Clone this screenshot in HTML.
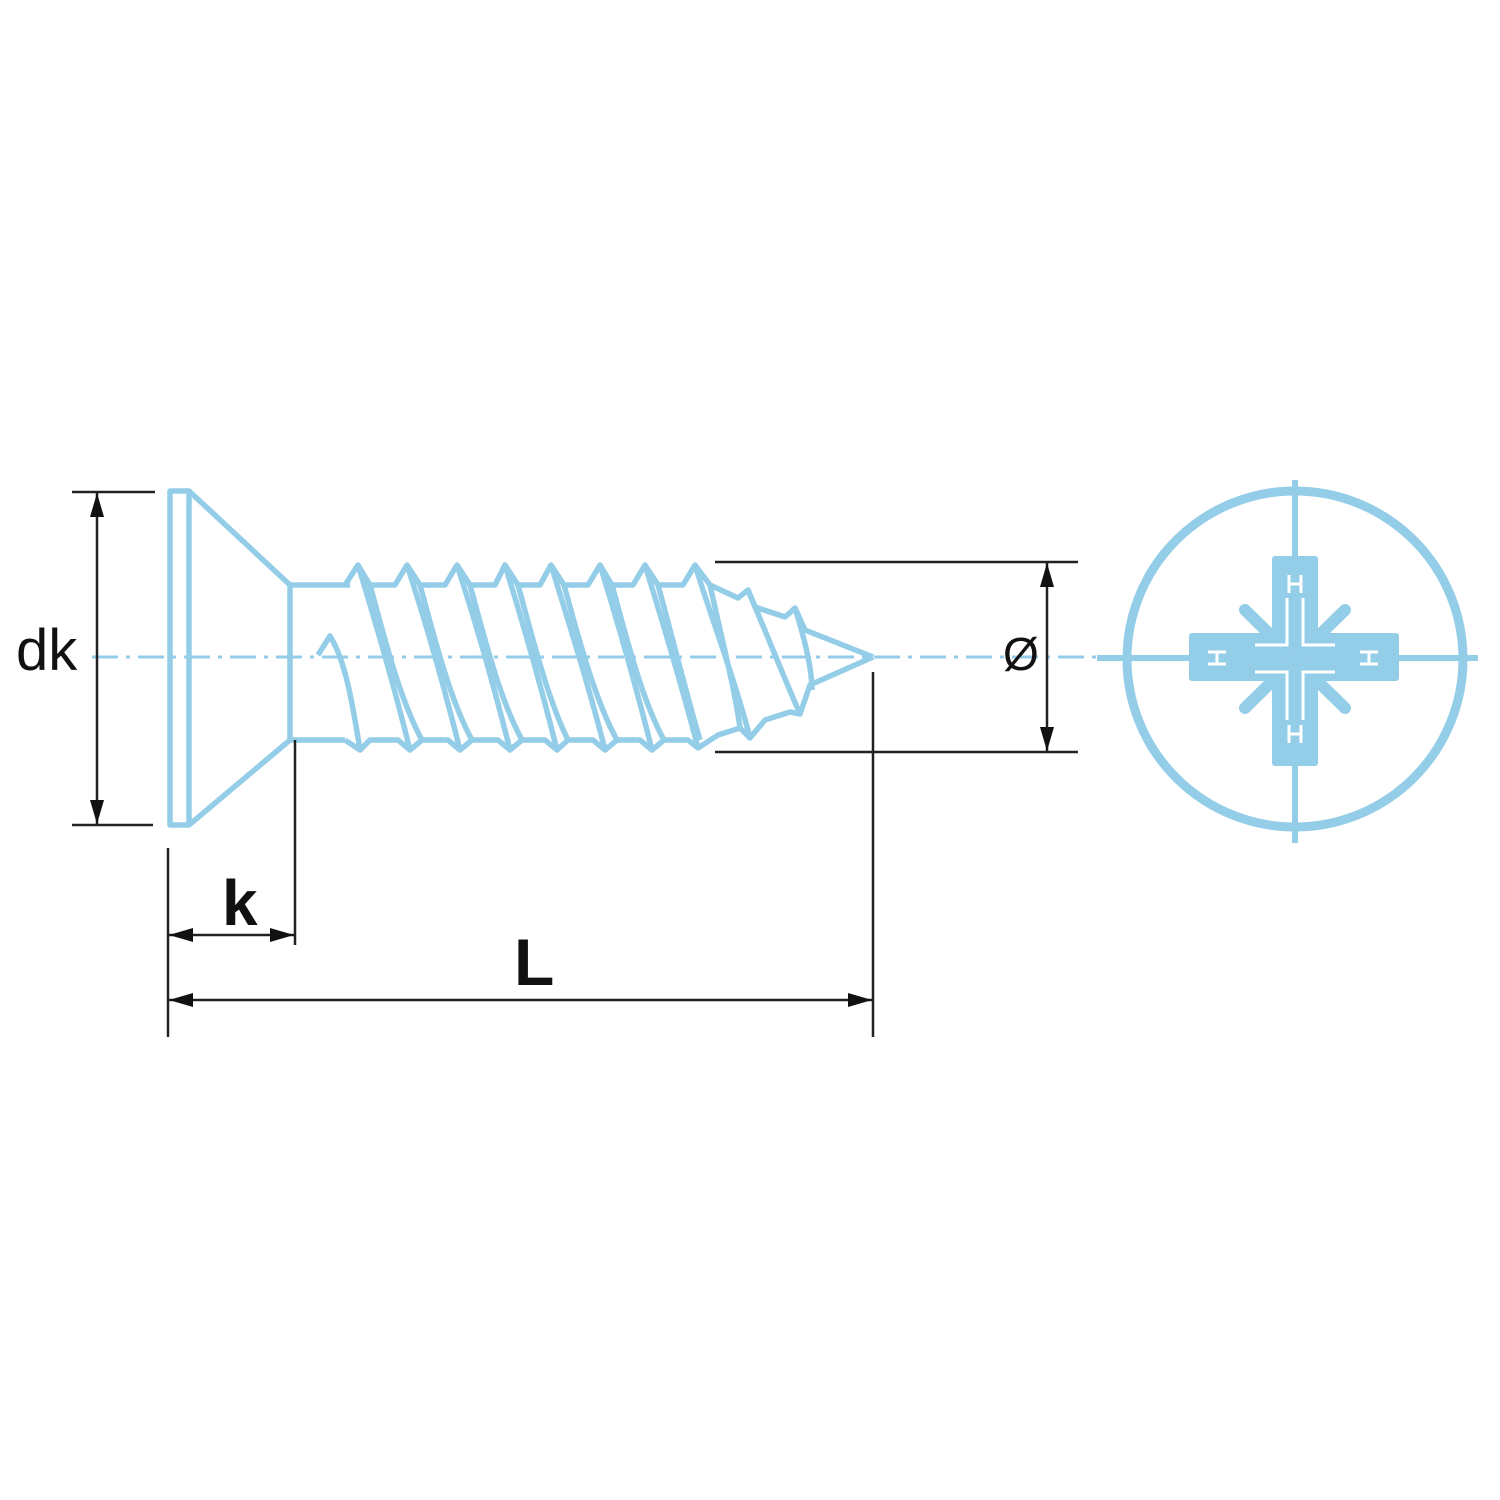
<!DOCTYPE html>
<html><head><meta charset="utf-8"><style>html,body{margin:0;padding:0;background:#fff}svg{display:block}</style></head>
<body>
<svg width="1500" height="1500" viewBox="0 0 1500 1500" xmlns="http://www.w3.org/2000/svg">
<defs>
<marker id="a" viewBox="0 0 24 14" refX="24" refY="7" markerWidth="24" markerHeight="14" markerUnits="userSpaceOnUse" orient="auto-start-reverse"><path d="M24,7 L0,0 L0,14 Z" fill="#111"/></marker>
</defs>
<rect width="1500" height="1500" fill="#fff"/>
<line x1="92" y1="657" x2="1100" y2="657" stroke="#94cde8" stroke-width="3" stroke-dasharray="26,8,4,8"/>
<g fill="none" stroke="#94cde8" stroke-width="5.5" stroke-linejoin="round">
<rect x="170" y="491" width="19" height="334"/>
<path d="M189,491 L290,585 L290,740 L189,825"/>
<line x1="290" y1="585" x2="350" y2="585"/>
<line x1="290" y1="740" x2="345" y2="740"/>
<path d="M345,585 L358,565 L370,585 L395,585 L407,565 L420,585 L445,585 L457,565 L470,585 L495,585 L505,565 L518,585 L540,585 L551,565 L564,585 L588,585 L600,565 L612,585 L633,585 L645,565 L658,585 L683,585 L695,565 L710,585 L738,598 L748,590 L755,607 L785,617 L795,608 L805,630 L873,657"/>
<path d="M345,740 L360,750 L370,740 L398,740 L410,750 L422,740 L448,740 L460,750 L472,740 L498,740 L510,750 L522,740 L545,740 L557,750 L568,740 L593,740 L605,750 L617,740 L640,740 L652,750 L664,740 L688,740 L698,748 L718,735 L740,728 L750,738 L765,720 L790,712 L800,714 L810,685 L873,657"/>
<path d="M318,655 L330,636 C345,660 352,700 360,750"/>
<path d="M358,565 C375,620 395,690 410,750 M370,585 C385,640 400,700 422,740"/>
<path d="M407,565 C425,620 445,690 460,750 M420,585 C435,640 450,700 472,740"/>
<path d="M457,565 C475,620 495,690 510,750 M470,585 C485,640 500,700 522,740"/>
<path d="M505,565 C522,620 542,690 557,750 M518,585 C533,640 548,700 568,740"/>
<path d="M551,565 C568,620 590,690 605,750 M564,585 C579,640 595,700 617,740"/>
<path d="M600,565 C617,620 637,690 652,750 M612,585 C627,640 642,700 664,740"/>
<path d="M645,565 C662,620 683,690 698,748 M658,585 C673,640 688,700 700,740"/>
<path d="M695,565 C712,620 735,680 750,738 M710,585 C722,640 735,690 740,728"/>
<path d="M748,590 C765,630 785,680 800,714"/>
<path d="M795,608 C805,640 812,670 812,690"/>
<circle cx="1295" cy="659" r="168" stroke-width="9"/>
<line x1="1295" y1="480" x2="1295" y2="843" stroke-width="6"/>
<line x1="1097" y1="658" x2="1478" y2="658" stroke-width="6"/>
</g>
<g fill="#94cde8">
<rect x="1272" y="556" width="46" height="210" rx="3"/>
<rect x="1189" y="633" width="210" height="48" rx="3"/>
<g stroke="#94cde8" stroke-width="12" stroke-linecap="round">
<line x1="1245" y1="610" x2="1345" y2="708"/>
<line x1="1345" y1="610" x2="1245" y2="708"/>
</g>
</g>
<g fill="none" stroke="#fff" stroke-width="3">
<path d="M1287,598 V645 H1255 M1303,598 V645 H1335 M1287,720 V672 H1255 M1303,720 V672 H1335"/>
<path d="M1289,575 v18 M1301,575 v18 M1289,584 h12 M1289,725 v18 M1301,725 v18 M1289,734 h12"/>
<path d="M1208,652 h18 M1208,664 h18 M1217,652 v12 M1360,652 h18 M1360,664 h18 M1369,652 v12"/>
</g>
<g stroke="#222" stroke-width="2.5" fill="none">
<line x1="72" y1="492" x2="155" y2="492"/>
<line x1="72" y1="825" x2="153" y2="825"/>
<line x1="97" y1="493" x2="97" y2="824" marker-start="url(#a)" marker-end="url(#a)"/>
<line x1="168" y1="848" x2="168" y2="1037"/>
<line x1="295" y1="740" x2="295" y2="945"/>
<line x1="169" y1="935" x2="294" y2="935" marker-start="url(#a)" marker-end="url(#a)"/>
<line x1="169" y1="1000" x2="872" y2="1000" marker-start="url(#a)" marker-end="url(#a)"/>
<line x1="873" y1="672" x2="873" y2="1037"/>
<line x1="715" y1="562" x2="1078" y2="562"/>
<line x1="715" y1="752" x2="1078" y2="752"/>
<line x1="1047" y1="563" x2="1047" y2="751" marker-start="url(#a)" marker-end="url(#a)"/>
</g>
<g font-family="Liberation Sans, sans-serif" fill="#111">
<text x="16" y="670" font-size="58">dk</text>
<text x="222" y="925" font-size="64" font-weight="bold">k</text>
<text x="514" y="985" font-size="66" font-weight="bold">L</text>
<text x="1003" y="670" font-size="46">Ø</text>
</g>
</svg>
</body></html>
